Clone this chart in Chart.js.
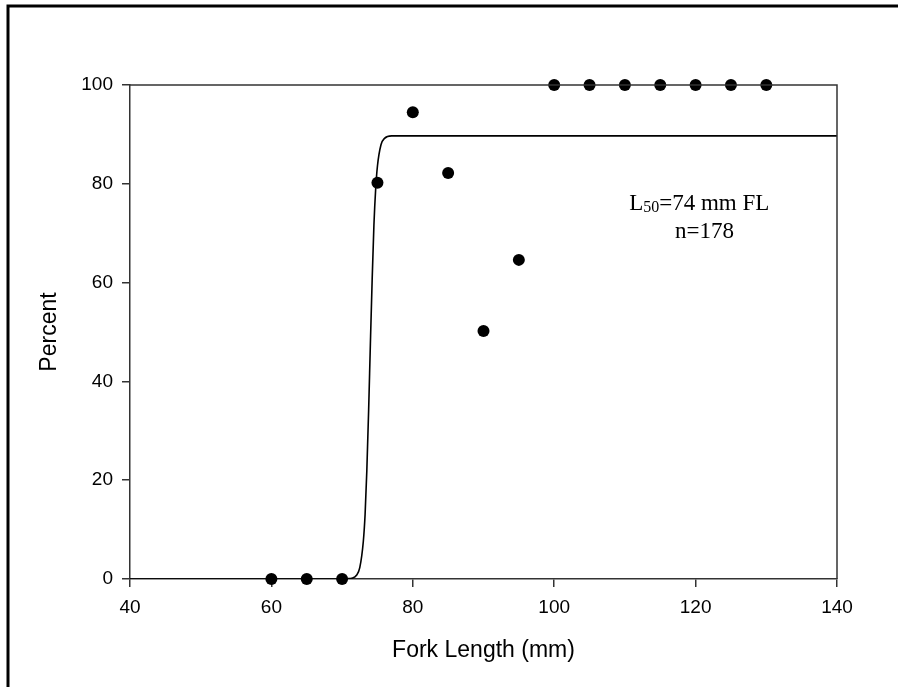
<!DOCTYPE html>
<meta charset="utf-8">
<style>
	body { margin: 0; background: #fff; }
</style>
<body>

	<script src="https://cdn.jsdelivr.net/npm/chart.js@4/dist/chart.umd.min.js"></script>

	<canvas id="maturityChart" width="898" height="687"></canvas>

	<script>
		// observed percent mature by fork length
		var lengths = [60, 65, 70, 75, 80, 85, 90, 95, 100, 105, 110, 115, 120, 125, 130];
		var percents = [0, 0, 0, 80.2, 94.5, 82.2, 50.2, 64.6, 100, 100, 100, 100, 100, 100, 100];

		// fitted curve
		var curveX = [40, 70, 71, 71.5, 72, 72.5, 73, 73.25, 73.5, 73.75, 74, 74.25, 74.5, 74.75, 75, 75.5, 76, 77, 140];
		var curveY = [0, 0, 0.1, 0.2, 0.7, 2.3, 7.6, 13, 22, 34, 47.6, 60.5, 71.6, 79, 83.6, 87.9, 89.2, 89.7, 89.7];

		var xTicks = [40, 60, 80, 100, 120, 140];
		var yTicks = [0, 20, 40, 60, 80, 100];

		var axisColor = '#333';

		var obsPoints = lengths.map(function(l, i) { return {x: l, y: percents[i]}; });
		var curvePoints = curveX.map(function(l, i) { return {x: l, y: curveY[i]}; });

		// outer frame + top/right box lines + L50 note
		var extras = {
			id: 'extras',
			beforeDraw: function(chart) {
				var ctx = chart.ctx;
				ctx.save();
				ctx.strokeStyle = '#000';
				ctx.lineWidth = 3;
				ctx.beginPath();
				ctx.moveTo(8, 687);
				ctx.lineTo(8, 6);
				ctx.lineTo(898, 6);
				ctx.stroke();
				ctx.restore();
			},
			afterDatasetsDraw: function(chart) {
				var ctx = chart.ctx;
				var a = chart.chartArea;
				ctx.save();
				ctx.strokeStyle = axisColor;
				ctx.lineWidth = 1.5;
				ctx.beginPath();
				ctx.moveTo(a.left, a.top);
				ctx.lineTo(a.right, a.top);
				ctx.lineTo(a.right, a.bottom);
				ctx.stroke();

				var xs = chart.scales.x, ys = chart.scales.y;
				var x1 = xs.getPixelForValue(110.6);
				var y1 = ys.getPixelForValue(74.7);
				ctx.fillStyle = '#000';
				ctx.textBaseline = 'alphabetic';
				ctx.textAlign = 'left';
				ctx.font = '23px "Liberation Serif", "Times New Roman", serif';
				ctx.fillText('L', x1, y1);
				var w = ctx.measureText('L').width;
				ctx.font = '16px "Liberation Serif", "Times New Roman", serif';
				ctx.fillText('50', x1 + w, y1 + 2);
				w += ctx.measureText('50').width;
				ctx.font = '23px "Liberation Serif", "Times New Roman", serif';
				ctx.fillText('=74 mm FL', x1 + w, y1);

				ctx.fillText('n=178', xs.getPixelForValue(117.1), ys.getPixelForValue(69.0));
				ctx.restore();
			}
		};

		var tickFont = { family: '"Liberation Sans", Arial, sans-serif', size: 19 };
		var titleFont = { family: '"Liberation Sans", Arial, sans-serif', size: 23 };

		var myChart = new Chart(document.getElementById('maturityChart'), {
			type: 'scatter',
			data: {
				datasets: [{
					label: 'observed',
					data: obsPoints,
					backgroundColor: '#000',
					borderWidth: 0,
					pointRadius: 6,
					clip: false,
					order: 1
				}, {
					label: 'fit',
					data: curvePoints,
					showLine: true,
					borderColor: '#000',
					borderWidth: 1.6,
					pointRadius: 0,
					cubicInterpolationMode: 'monotone',
					order: 2
				}]
			},
			plugins: [extras],
			options: {
				responsive: false,
				animation: false,
				events: [],
				layout: { padding: { top: 85, right: 61, left: 0, bottom: 0 } },
				plugins: {
					legend: { display: false },
					tooltip: { enabled: false }
				},
				scales: {
					x: {
						type: 'linear',
						min: 40,
						max: 140,
						afterFit: function(s) { s.height = 108; },
						afterBuildTicks: function(s) { s.ticks = xTicks.map(function(v) { return {value: v}; }); },
						grid: { drawOnChartArea: false, drawTicks: true, tickLength: 8, color: axisColor, lineWidth: 1.5 },
						border: { display: true, color: axisColor, width: 1.5 },
						ticks: { color: '#000', font: tickFont, padding: 9, maxRotation: 0 },
						title: { display: true, text: 'Fork Length (mm)', color: '#000', font: titleFont, padding: { bottom: 23 } }
					},
					y: {
						type: 'linear',
						min: 0,
						max: 100,
						afterFit: function(s) { s.width = 130; },
						afterBuildTicks: function(s) { s.ticks = yTicks.map(function(v) { return {value: v}; }); },
						grid: { drawOnChartArea: false, drawTicks: true, tickLength: 8, color: axisColor, lineWidth: 1.5 },
						border: { display: true, color: axisColor, width: 1.5 },
						ticks: { color: '#000', font: tickFont, padding: 9 },
						title: { display: true, text: 'Percent', color: '#000', font: titleFont, padding: { top: 36 } }
					}
				}
			}
		});
	</script>
</body>
